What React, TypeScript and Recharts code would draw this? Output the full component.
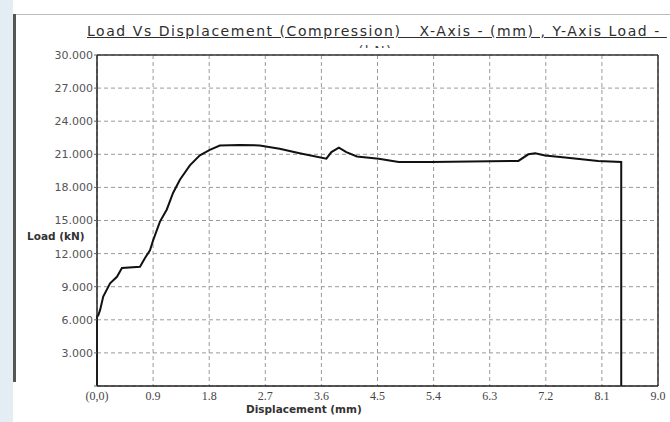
import React from 'react';
import {
  LineChart,
  Line,
  XAxis,
  YAxis,
  CartesianGrid,
  ReferenceLine,
} from 'recharts';

// Displacement (mm) and load (kN)
const displacement = [
  0, 0, 0.02, 0.05, 0.1, 0.21, 0.32, 0.4, 0.69, 0.77, 0.85, 0.9, 1.01, 1.12, 1.22, 1.33,
  1.49, 1.65, 1.81, 1.97, 2.29, 2.61, 2.93, 3.25, 3.68, 3.76, 3.88, 4.0, 4.17, 4.52,
  4.84, 5.37, 6.76, 6.92, 7.03, 7.19, 7.51, 8.04, 8.41, 8.41,
];
const load = [
  0, 6.3, 6.4, 6.9, 8.1, 9.3, 9.9, 10.7, 10.8, 11.6, 12.3, 13.2, 14.9, 16.0, 17.5, 18.7,
  20.0, 20.9, 21.4, 21.8, 21.85, 21.8, 21.5, 21.1, 20.6, 21.2, 21.6, 21.2, 20.8, 20.6,
  20.3, 20.3, 20.4, 21.0, 21.1, 20.9, 20.7, 20.4, 20.3, 0,
];

const xTicks = [0, 0.9, 1.8, 2.7, 3.6, 4.5, 5.4, 6.3, 7.2, 8.1, 9.0];
const yTicks = [0, 3, 6, 9, 12, 15, 18, 21, 24, 27, 30];

const title = 'Load Vs Displacement (Compression)   X-Axis - (mm) , Y-Axis Load - ';

const data = displacement.map((x, i) => ({ x, y: load[i] }));

export default function App() {
  return (
    <div style={{ position: 'fixed', left: 0, top: 0, width: 670, height: 422, background: '#fff', overflow: 'hidden' }}>
      {/* faint page edge + frame lines */}
      <div style={{ position: 'absolute', left: 0, top: 0, width: 13, height: 422, background: '#e4edf4' }} />
      <div style={{ position: 'absolute', left: 13, top: 14, width: 3, height: 368, background: '#555' }} />
      <div style={{ position: 'absolute', left: 16, top: 14, width: 654, height: 1, background: '#bbb' }} />

      <div
        style={{
          position: 'absolute',
          left: 87,
          top: 23,
          whiteSpace: 'pre',
          fontFamily: 'DejaVu Sans, sans-serif',
          fontSize: 14,
          letterSpacing: 1.55,
          color: '#2e2e2e',
          textDecoration: 'underline',
        }}
      >
        {title}
      </div>
      <div
        style={{
          position: 'absolute',
          left: 358,
          top: 43,
          height: 5,
          overflow: 'hidden',
          fontFamily: 'DejaVu Sans, sans-serif',
          fontSize: 14,
          letterSpacing: 1.3,
          color: '#444',
        }}
      >
        (kN)
      </div>

      <div style={{ position: 'absolute', left: 0, top: 0 }}>
        <LineChart width={670} height={422} data={data} margin={{ top: 55, right: 12, bottom: 0, left: 0 }}>
          <CartesianGrid stroke="#9a9a9a" strokeDasharray="4 3" />
          <XAxis
            dataKey="x"
            type="number"
            domain={[0, 9]}
            ticks={xTicks}
            height={36}
            axisLine={{ stroke: '#222', strokeWidth: 1.5 }}
            tickLine={false}
            tickMargin={-1}
            interval={0}
            tick={{ fill: '#444', fontSize: 12, fontFamily: 'Liberation Serif, serif' }}
            tickFormatter={(v: number) => (v === 0 ? '(0,0)' : v.toFixed(1))}
          />
          <YAxis
            type="number"
            domain={[0, 30]}
            ticks={yTicks}
            width={97}
            axisLine={{ stroke: '#222', strokeWidth: 1.5 }}
            tickSize={3}
            tickMargin={1}
            tickLine={{ stroke: '#666' }}
            interval={0}
            tick={{ fill: '#555', fontSize: 11, fontFamily: 'DejaVu Sans, sans-serif' }}
            tickFormatter={(v: number) => (v === 0 ? '' : v.toFixed(3))}
          />
          <ReferenceLine x={9} stroke="#333" strokeWidth={1.5} />
          <ReferenceLine y={30} stroke="#333" strokeWidth={1.5} />
          <Line
            type="linear"
            dataKey="y"
            stroke="#111"
            strokeWidth={2}
            dot={false}
            isAnimationActive={false}
          />
        </LineChart>
      </div>

      <div
        style={{
          position: 'absolute',
          left: 246,
          top: 230,
          display: 'none',
        }}
      />
      <div
        style={{
          position: 'absolute',
          left: 27,
          top: 230,
          fontFamily: 'DejaVu Sans, sans-serif',
          fontSize: 10.5,
          fontWeight: 'bold',
          color: '#333',
        }}
      >
        Load (kN)
      </div>
      <div
        style={{
          position: 'absolute',
          left: 246,
          top: 403,
          fontFamily: 'DejaVu Sans, sans-serif',
          fontSize: 10.5,
          fontWeight: 'bold',
          color: '#333',
        }}
      >
        Displacement (mm)
      </div>
    </div>
  );
}
